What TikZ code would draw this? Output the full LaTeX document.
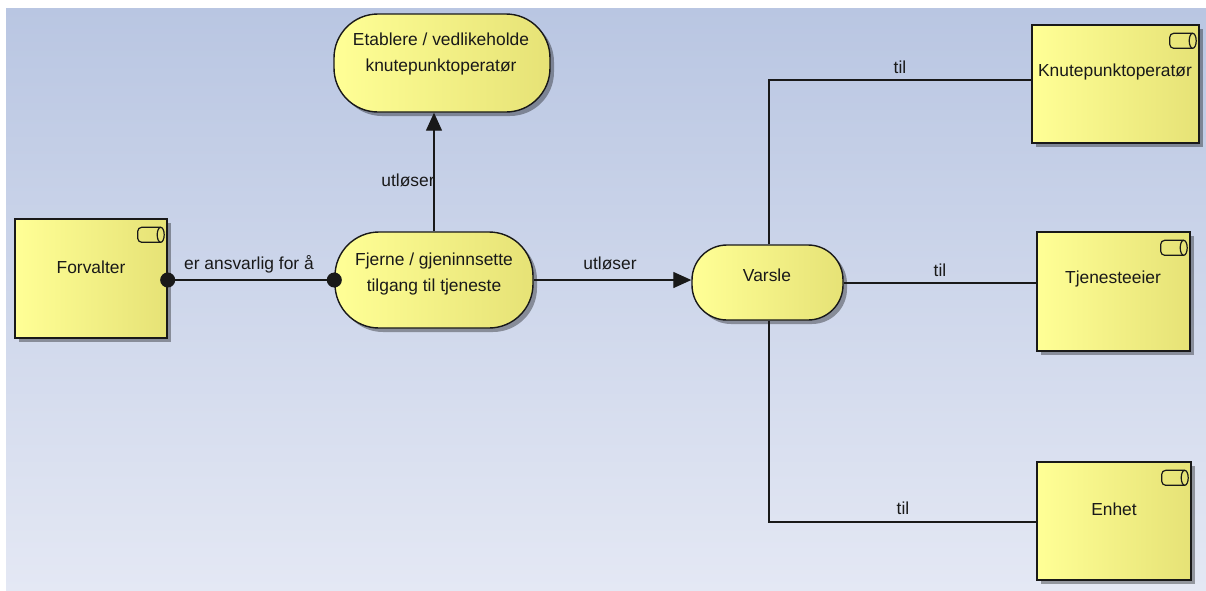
\documentclass[tikz,border=0pt]{standalone}
\usepackage{fontspec}
\setmainfont{Liberation Sans}
\usetikzlibrary{arrows.meta,shadows,calc}

\definecolor{bgTop}{RGB}{185,198,226}
\definecolor{bgBot}{RGB}{228,232,244}
\definecolor{ylL}{RGB}{255,255,150}
\definecolor{ylR}{RGB}{230,226,118}
\definecolor{ink}{RGB}{25,25,25}

\tikzset{
  elem/.style={draw=ink, line width=1.4pt, left color=ylL, middle color=ylL!96!ylR, right color=ylR,
    drop shadow={shadow xshift=4pt, shadow yshift=-4pt, opacity=0.35, fill=black}, inner sep=0pt},
  actor/.style={elem},
  process/.style={elem},
  txt/.style={text=ink, align=center, inner sep=0pt, font=\fontsize{17.4}{26}\selectfont},
  lbl/.style={text=ink, inner sep=0pt, font=\fontsize{17.4}{20}\selectfont},
  conn/.style={draw=ink, line width=1.3pt},
  trig/.style={conn, -{Triangle[length=18pt,width=16pt]}},
  assign/.style={conn, {Circle[length=15pt]}-{Circle[length=15pt]}, shorten <=-7.5pt, shorten >=-7.5pt},
}

\begin{document}
\begin{tikzpicture}[x=1pt,y=-1pt]
  \useasboundingbox (0,0) rectangle (1206,590);
  % backdrop
  \fill[top color=bgTop, bottom color=bgBot] (6,8) rectangle (1206,590);

  % business actors
  \node[actor, minimum width=152pt, minimum height=119pt] (forv) at (91,278.5) {};
  \node[actor, minimum width=167pt, minimum height=118pt] (knut) at (1115.5,84) {};
  \node[actor, minimum width=153pt, minimum height=119pt] (tjen) at (1113.5,291.5) {};
  \node[actor, minimum width=154pt, minimum height=118pt] (enh) at (1114,521) {};

  % actor icons
  \foreach \n in {forv,knut,tjen,enh}{
    \begin{scope}[shift={(\n.north east)}]
      \draw[ink, line width=1.2pt, rounded corners=4pt] (-7,9) -- (-30,9) -- (-30,24) -- (-7,24);
      \draw[ink, line width=1.2pt] (-7,16.5) ellipse (3.5pt and 7.5pt);
    \end{scope}
  }

  % business processes
  \node[process, rounded corners=44pt, minimum width=216pt, minimum height=98pt] (etab) at (442,63) {};
  \node[process, rounded corners=44pt, minimum width=198pt, minimum height=96pt] (fjern) at (434,280) {};
  \node[process, rounded corners=35pt, minimum width=151pt, minimum height=75pt] (vars) at (767.5,282.5) {};

  % element names
  \node[txt] (t-forv) at (91,267) {Forvalter};
  \node[txt] (t-knut) at (1115,72) {Knutepunktoperatør};
  \node[txt] (t-tjen) at (1113,279) {Tjenesteeier};
  \node[txt] (t-enh) at (1114,509) {Enhet};
  \node[txt] (t-etab) at (441,54) {Etablere / vedlikeholde\\knutepunktoperatør};
  \node[txt] (t-fjern) at (434,274) {Fjerne / gjeninnsette\\tilgang til tjeneste};
  \node[txt] (t-vars) at (767,275) {Varsle};

  % relations
  \draw[assign] (forv.east |- 0,280) -- (fjern.west |- 0,280);
  \draw[trig] (fjern.north) -- (etab.south -| fjern.north);
  \draw[trig] (fjern.east |- 0,280) -- (vars.west |- 0,280);
  \coordinate (vup) at (769,80);
  \coordinate (vdn) at (769,522);
  \draw[conn] (vars.north -| vup) -- (vup) -- (knut.west |- vup);
  \draw[conn] (vars.east |- 0,283) -- (tjen.west |- 0,283);
  \draw[conn] (vars.south -| vdn) -- (vdn) -- (enh.west |- vdn);

  % relation labels
  \node[lbl] (l1) at (249,264) {er ansvarlig for å};
  \node[lbl] (l2) at (408,180) {utløser};
  \node[lbl] (l3) at (610,263) {utløser};
  \node[lbl] (l4) at (900,67) {til};
  \node[lbl] (l5) at (940,270) {til};
  \node[lbl] (l6) at (903,508) {til};
\end{tikzpicture}
\end{document}
